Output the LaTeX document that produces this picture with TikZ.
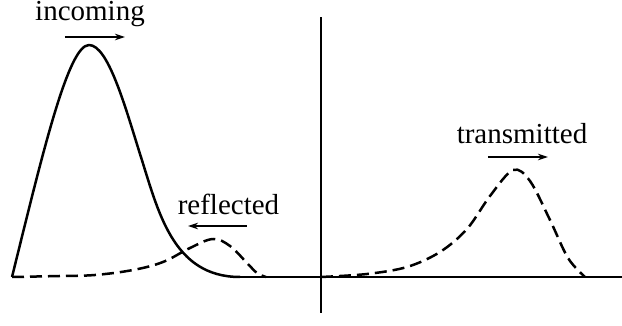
\documentclass[tikz,border=0pt]{standalone}
\usepackage{fontspec}
\setmainfont{Liberation Serif}
\usetikzlibrary{arrows.meta}
\begin{document}
\begin{tikzpicture}[x=0.4pt, y=0.4pt, >={Stealth[length=4pt,width=2.6pt]},
    wave/.style={line width=1pt, line join=round},
    ghost/.style={wave, dash pattern=on 4.8pt off 2.4pt},
    tag/.style={font=\fontsize{11.6}{14}\selectfont, inner sep=0pt},
    run/.style={->, line width=0.45pt}]
    \useasboundingbox (0,0) rectangle (622,326);

    % axes
    \coordinate (L) at (238,49);
    \coordinate (R) at (622,49);
    \coordinate (B) at (321,13);
    \coordinate (T) at (321,309);
    \draw[line width=0.9pt] (L) -- (R);
    \draw[line width=0.9pt] (B) -- (T);

    % incoming pulse
    \draw[wave] (12,49) .. controls (42,170) and (68,281) .. (89,281)
        .. controls (108,281) and (125,220) .. (140,172)
        .. controls (158,116) and (172,49) .. (240,49);

    % reflected pulse
    \draw[ghost] plot[smooth, tension=0.6] coordinates {(12,49) (60,50) (95,51) (133,56)
        (163,64) (190,78) (213,87) (230,80) (247,63) (257,53) (266,49)};

    % transmitted pulse
    \draw[ghost] plot[smooth, tension=0.55] coordinates {(321,49) (367,52) (407,59)
        (440,74) (467,97) (490,130) (513,156) (530,145) (550,106) (568,68) (585,49)};

    % labels
    \node[tag] (inc) at (90,312) {incoming};
    \node[tag] (ref) at (228.5,122) {reflected};
    \node[tag] (tra) at (522,192) {transmitted};

    \coordinate (inc0) at (65,289);
    \coordinate (inc1) at (125,289);
    \coordinate (ref0) at (247,100);
    \coordinate (ref1) at (188,100);
    \coordinate (tra0) at (488,169);
    \coordinate (tra1) at (548,169);
    \draw[run] (inc0) -- (inc1);
    \draw[run] (ref0) -- (ref1);
    \draw[run] (tra0) -- (tra1);
\end{tikzpicture}
\end{document}
